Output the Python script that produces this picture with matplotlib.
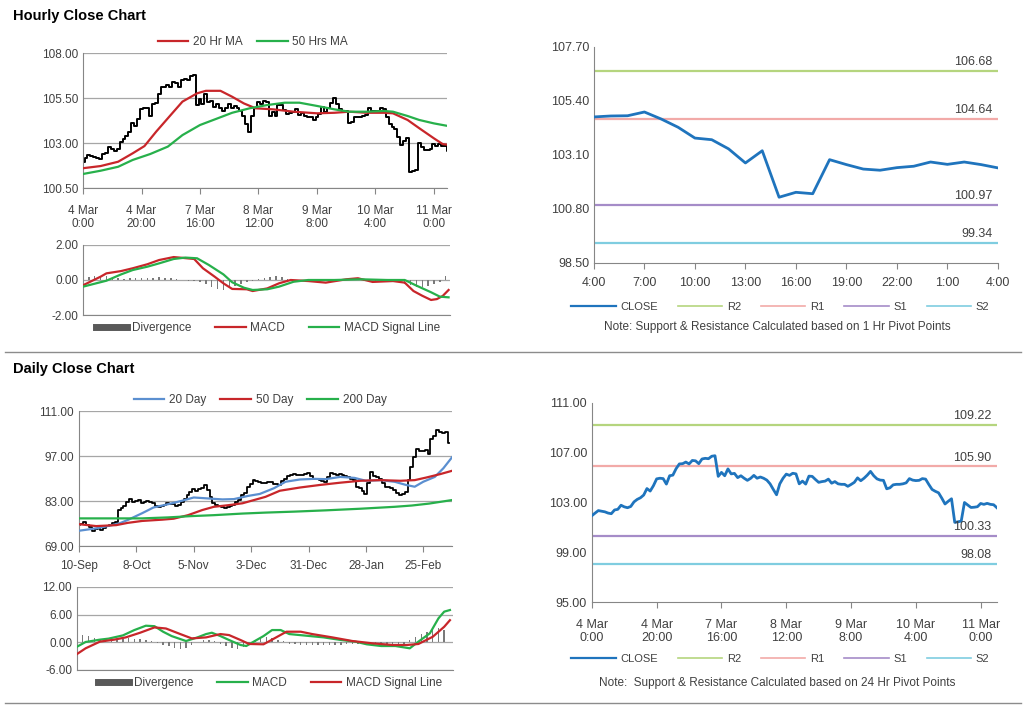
import matplotlib.pyplot as plt
from matplotlib.lines import Line2D

plt.rcParams['font.family'] = ['Liberation Sans', 'DejaVu Sans']

# ---- hourly data (4 Mar 0:00 onwards, one value per trading hour)
hourly_close = [
    101.94, 102.15, 102.35, 102.30, 102.25, 102.15, 102.10, 102.40, 102.45, 102.78,
    102.65, 102.58, 102.68, 103.05, 103.25, 103.38, 103.60, 104.12, 103.92, 104.35,
    104.90, 104.95, 104.92, 104.48, 105.15, 105.20, 105.72, 106.10, 106.12, 106.25,
    106.10, 106.38, 106.35, 106.12, 106.50, 106.55, 106.52, 106.72, 106.76, 105.10,
    105.42, 105.15, 105.70, 105.30, 105.34, 105.00, 105.15, 104.95, 104.78, 104.94,
    105.18, 104.95, 105.05, 104.95, 104.80, 104.50, 104.05, 103.62, 104.50, 104.95,
    105.28, 105.18, 105.35, 105.30, 104.50, 104.72, 104.48, 105.12, 105.10, 104.85,
    104.62, 104.68, 104.72, 104.88, 104.55, 104.68, 104.50, 104.46, 104.46, 104.30,
    104.45, 104.62, 104.98, 104.75, 104.95, 105.20, 105.50, 105.15, 104.90, 104.80,
    104.78, 104.10, 104.18, 104.42, 104.46, 104.46, 104.50, 104.58, 104.92, 104.80,
    104.76, 104.78, 104.92, 104.88, 104.45, 104.05, 103.90, 103.78, 103.35, 102.88,
    103.10, 103.30, 101.40, 101.45, 101.50, 103.00, 102.80, 102.60, 102.62, 102.66,
    102.92, 102.85, 102.93, 102.85, 102.82, 102.58]
hourly_labels = ['4 Mar\n0:00', '4 Mar\n20:00', '7 Mar\n16:00', '8 Mar\n12:00',
                 '9 Mar\n8:00', '10 Mar\n4:00', '11 Mar\n0:00']

ma20_hours = [0, 6, 12, 17, 21, 25, 30, 34, 39, 42, 47, 51, 55, 59, 65, 72, 80, 86,
              91, 97, 103, 106, 111, 115, 120, 123, 125]
ma20_values = [101.60, 101.72, 101.96, 102.43, 102.83, 103.63, 104.56, 105.30, 105.76,
               105.90, 105.90, 105.57, 105.20, 104.93, 104.87, 104.74, 104.65, 104.68,
               104.74, 104.68, 104.68, 104.65, 104.28, 103.82, 103.26, 102.94, 102.90]
ma50_hours = [0, 6, 12, 17, 23, 29, 34, 40, 46, 51, 57, 63, 69, 74, 80, 86, 91, 97,
              103, 106, 111, 115, 120, 125]
ma50_values = [101.28, 101.46, 101.68, 102.06, 102.39, 102.80, 103.44, 104.00, 104.37,
               104.68, 104.93, 105.11, 105.24, 105.24, 105.06, 104.87, 104.74, 104.74,
               104.78, 104.74, 104.50, 104.28, 104.09, 103.94]

h_macd_hours = [0, 6, 8, 13, 17, 22, 26, 31, 33, 38, 41, 45, 48, 51, 56, 58, 63, 67,
                71, 77, 83, 90, 94, 99, 106, 110, 113, 116, 119, 121, 123, 125]
h_macd_values = [-0.30, 0.19, 0.38, 0.51, 0.67, 0.90, 1.14, 1.31, 1.28, 1.20, 0.67,
                 0.19, -0.19, -0.51, -0.53, -0.63, -0.48, -0.19, 0.00, -0.06, -0.15,
                 0.04, 0.10, -0.11, -0.06, -0.15, -0.63, -0.90, -1.14, -1.09, -0.91, -0.57]
h_signal_hours = [0, 8, 13, 17, 22, 26, 31, 35, 39, 43, 48, 51, 55, 58, 63, 67, 72, 77,
                  86, 95, 104, 110, 114, 119, 122, 125]
h_signal_values = [-0.38, -0.04, 0.32, 0.57, 0.76, 0.95, 1.20, 1.28, 1.24, 0.86, 0.32,
                   -0.13, -0.44, -0.57, -0.53, -0.38, -0.10, 0.00, 0.00, 0.04, 0.00,
                   0.00, -0.32, -0.70, -0.95, -0.99]
h_div_hours = list(range(0, 126, 2))
h_div_values = [0.10, 0.15, 0.20, 0.22, 0.20, 0.12, 0.10, 0.08, 0.10, 0.10,
                0.12, 0.12, 0.14, 0.15, 0.14, 0.12, 0.08, 0.02, -0.03, -0.06,
                -0.12, -0.25, -0.38, -0.50, -0.55, -0.48, -0.35, -0.20, -0.10, -0.05,
                0.05, 0.12, 0.18, 0.20, 0.15, 0.06, 0.02, -0.03, -0.05, -0.06,
                -0.04, -0.03, 0.02, 0.04, 0.05, 0.06, 0.05, 0.02, -0.03, -0.05,
                -0.06, -0.05, -0.03, -0.05, -0.10, -0.20, -0.30, -0.38, -0.40, -0.35,
                -0.25, -0.10, 0.20]

# ---- last 24 hours close with 1 Hr pivots
day_hour_labels = ['4:00', '7:00', '10:00', '13:00', '16:00', '19:00', '22:00', '1:00', '4:00']
day_hour_close = [104.72, 104.76, 104.77, 104.93, 104.63, 104.28, 103.82, 103.75, 103.36,
                  102.76, 103.28, 101.30, 101.51, 101.45, 102.90, 102.69, 102.50, 102.45,
                  102.56, 102.62, 102.80, 102.70, 102.80, 102.69, 102.55]
pivots_1h = {'R2': 106.68, 'R1': 104.64, 'S1': 100.97, 'S2': 99.34}
pivots_24h = {'R2': 109.22, 'R1': 105.90, 'S1': 100.33, 'S2': 98.08}

# ---- daily data (10-Sep onwards, trading days)
daily_close = [
    75.5, 76.0, 76.5, 75.6, 74.8, 73.8, 74.2, 74.5, 74.0, 74.6,
    75.2, 75.6, 76.2, 76.5, 80.2, 80.8, 81.5, 82.6, 83.5, 82.8,
    83.0, 83.3, 82.5, 82.8, 83.1, 82.6, 82.3, 81.6, 81.0, 81.4,
    81.8, 82.4, 82.2, 82.0, 81.5, 81.7, 82.6, 83.5, 85.0, 85.8,
    86.6, 86.2, 86.6, 87.2, 88.0, 86.4, 84.3, 82.3, 81.8, 81.4,
    81.0, 80.8, 81.2, 81.5, 81.7, 82.6, 83.3, 84.8, 85.6, 87.4,
    88.4, 89.5, 89.2, 89.0, 88.6, 88.5, 88.8, 89.0, 88.4, 88.2,
    88.0, 89.3, 90.0, 90.8, 91.0, 91.4, 91.0, 91.2, 91.1, 91.5,
    91.8, 90.8, 90.0, 89.7, 89.5, 89.2, 89.0, 90.5, 91.8, 91.4,
    91.1, 91.3, 91.1, 90.8, 90.4, 89.9, 89.5, 87.5, 87.0, 86.0,
    85.2, 88.5, 92.1, 90.8, 90.4, 90.0, 88.5, 87.5, 87.3, 87.2,
    86.4, 85.5, 84.8, 85.2, 85.8, 89.5, 93.7, 96.8, 99.1, 98.7,
    98.5, 98.9, 97.6, 102.2, 103.2, 105.1, 104.5, 104.1, 104.6, 101.1]
daily_labels = ['10-Sep', '8-Oct', '5-Nov', '3-Dec', '31-Dec', '28-Jan', '25-Feb']

ma20d_days = [0, 6, 10, 14, 17, 22, 26, 31, 36, 40, 45, 50, 54, 59, 63, 68, 72, 77, 82,
              86, 91, 96, 100, 105, 110, 114, 117, 120, 124, 127, 130]
ma20d_values = [73.75, 74.5, 75.2, 76.0, 77.1, 79.2, 81.0, 82.0, 83.1, 84.1, 83.8, 83.5,
                83.6, 84.6, 85.2, 87.0, 89.0, 89.7, 89.9, 89.8, 90.5, 90.2, 89.3, 89.5,
                89.0, 88.0, 87.45, 89.0, 90.5, 93.2, 96.6]
ma50d_days = [0, 6, 13, 17, 22, 29, 33, 38, 43, 47, 52, 57, 61, 65, 70, 77, 84, 91, 98,
              105, 112, 117, 121, 126, 130]
ma50d_values = [75.8, 75.2, 75.5, 76.2, 76.8, 77.2, 77.5, 78.6, 80.2, 81.2, 81.7, 82.3,
                83.3, 84.3, 86.2, 87.2, 88.0, 88.7, 89.3, 89.5, 89.3, 89.5, 90.3, 91.4, 92.4]
ma200d_days = [0, 22, 31, 39, 47, 57, 65, 75, 86, 98, 110, 116, 122, 130]
ma200d_values = [77.6, 77.6, 77.9, 78.3, 78.6, 79.1, 79.4, 79.7, 80.1, 80.6, 81.2, 81.6,
                 82.2, 83.3]

d_macd_days = [0, 3, 8, 11, 16, 20, 24, 27, 30, 33, 38, 42, 45, 47, 50, 53, 57, 59, 61,
               65, 68, 71, 74, 80, 86, 92, 97, 101, 106, 111, 116, 119, 123, 126, 128, 130]
d_macd_values = [-0.95, 0.07, 0.58, 0.8, 1.5, 2.66, 3.6, 3.5, 2.3, 1.35, 0.28, 1.07, 1.79,
                 2.08, 1.35, 0.5, -0.58, -0.8, -0.07, 1.35, 2.66, 2.66, 1.79, 1.43, 1.07,
                 0.5, 0.15, -0.43, -0.8, -0.8, -1.3, 0.15, 1.95, 5.2, 6.65, 7.0]
d_signal_days = [0, 3, 8, 13, 17, 22, 27, 31, 36, 40, 45, 50, 53, 57, 60, 65, 68, 73, 78,
                 82, 89, 96, 103, 110, 115, 119, 124, 128, 130]
d_signal_values = [-2.54, -1.3, 0.15, 0.58, 1.07, 2.08, 3.23, 3.0, 1.79, 0.85, 1.07, 1.79,
                   1.57, 0.5, -0.36, -0.43, 0.58, 2.3, 2.3, 1.79, 1.07, 0.28, -0.22, -0.58,
                   -0.58, -0.36, 1.2, 3.37, 4.8]
d_div_days = list(range(0, 130, 2))
d_div_values = [1.4, 1.5, 1.3, 1.0, 0.6, 0.3, 0.4, 0.6, 0.7, 0.9,
                0.8, 0.7, 0.5, 0.3, -0.2, -0.6, -0.9, -1.2, -1.4, -1.2,
                -0.6, 0.1, 0.5, 0.6, 0.3, -0.3, -0.8, -1.2, -1.4, -1.0,
                -0.3, 0.5, 0.9, 1.1, 1.0, 0.6, 0.2, -0.3, -0.4, -0.5,
                -0.5, -0.6, -0.5, -0.5, -0.6, -0.6, -0.5, -0.4, -0.3, -0.3,
                -0.4, -0.4, -0.4, -0.4, -0.4, -0.3, -0.4, -0.5, 0.4, 1.2,
                1.8, 2.3, 2.8, 3.0, 2.7]

RED = '#c8262a'
GREEN = '#27b04b'
BLUE_MA = '#5b8fd0'
CLOSE_BLUE = '#1f74bd'
TEXT = '#404040'
LEVEL_COLORS = {'R2': '#b5d57e', 'R1': '#f2aaa8', 'S1': '#a58cc8', 'S2': '#7fcde0'}


def style_axes(ax, grid=True):
    for side in ['top', 'right']:
        ax.spines[side].set_visible(False)
    for side in ['left', 'bottom']:
        ax.spines[side].set_color('#868686')
    ax.tick_params(colors='#868686', labelcolor=TEXT, labelsize=8.5, length=4)
    if grid:
        ax.yaxis.grid(True, color='#a6a6a6', linewidth=0.9)
    ax.set_axisbelow(True)


def fmt_ticks(ax, ticks):
    ax.set_yticks(ticks)
    ax.set_yticklabels(['%.2f' % t for t in ticks])


def level_chart(ax, x, close, levels, ylim, yticks, xticks, xlabels):
    style_axes(ax, grid=False)
    ax.plot(x, close, color=CLOSE_BLUE, linewidth=2, zorder=3)
    for name, v in levels.items():
        ax.axhline(v, color=LEVEL_COLORS[name], linewidth=1.6)
        ax.annotate('%.2f' % v, xy=(1, v), xycoords=('axes fraction', 'data'),
                    xytext=(-4, 2), textcoords='offset points', ha='right', va='bottom',
                    fontsize=9, color=TEXT)
    ax.set_ylim(*ylim)
    fmt_ticks(ax, yticks)
    ax.set_xticks(xticks)
    ax.set_xticklabels(xlabels)
    ax.tick_params(axis='y', length=0, labelsize=9)
    ax.tick_params(axis='x', labelsize=9)


def add_legend(handles, labels, x, y, spacing, handlelength=2.6, size=8.5):
    fig.legend(handles, labels, loc='center', bbox_to_anchor=(x, 1 - y / 706),
               ncol=len(labels), frameon=False, fontsize=size, handlelength=handlelength,
               columnspacing=spacing, handletextpad=0.4, labelcolor=TEXT)


fig = plt.figure(figsize=(10.24, 7.06), dpi=100)

fig.text(0.013, 0.977, 'Hourly Close Chart', fontsize=10.5, fontweight='bold', va='center')
fig.text(0.013, 0.477, 'Daily Close Chart', fontsize=10.5, fontweight='bold', va='center')
fig.add_artist(Line2D([0.005, 0.997], [1 - 352 / 706, 1 - 352 / 706], color='#8c8c8c', lw=1))
fig.add_artist(Line2D([0.005, 0.997], [1 - 703 / 706, 1 - 703 / 706], color='#8c8c8c', lw=1))

# ---- hourly close with moving averages
hours = list(range(len(hourly_close)))
ax1 = fig.add_axes([0.0811, 0.7337, 0.3555, 0.1912])
style_axes(ax1)
ax1.plot(hours, hourly_close, drawstyle='steps-mid', color='black', linewidth=1.4, zorder=2)
ax1.plot(ma20_hours, ma20_values, color=RED, linewidth=1.6, zorder=3)
ax1.plot(ma50_hours, ma50_values, color=GREEN, linewidth=1.6, zorder=3)
ax1.set_xlim(0, 124.5)
ax1.set_ylim(100.5, 108)
fmt_ticks(ax1, [100.5, 103, 105.5, 108])
ax1.set_xticks(range(0, 121, 20))
ax1.set_xticklabels(hourly_labels)
ax1.tick_params(axis='y', length=0)
ax1.tick_params(axis='x', pad=8)
add_legend([Line2D([], [], color=RED, lw=1.6), Line2D([], [], color=GREEN, lw=1.6)],
           ['20 Hr MA', '50 Hrs MA'], 0.247, 42, 1.2)

ax2 = fig.add_axes([0.0811, 0.5538, 0.3584, 0.0992])
style_axes(ax2)
ax2.bar(h_div_hours, h_div_values, width=0.5, color='#7a7a7a', zorder=2)
ax2.plot(h_macd_hours, h_macd_values, color=RED, linewidth=1.6, zorder=3)
ax2.plot(h_signal_hours, h_signal_values, color=GREEN, linewidth=1.6, zorder=3)
ax2.set_xlim(0, 125.5)
ax2.set_ylim(-2, 2)
fmt_ticks(ax2, [-2, 0, 2])
ax2.set_xticks([])
ax2.tick_params(axis='y', length=0)
add_legend([Line2D([], [], color='#595959', lw=5), Line2D([], [], color=RED, lw=1.6),
            Line2D([], [], color=GREEN, lw=1.6)],
           ['Divergence', 'MACD', 'MACD Signal Line'], 0.262, 328, 2.0)

# ---- last 24 hours vs 1 Hr pivots
ax3 = fig.add_axes([0.580, 0.6275, 0.3945, 0.306])
level_chart(ax3, range(len(day_hour_close)), day_hour_close, pivots_1h, (98.5, 107.7),
            [98.5, 100.8, 103.1, 105.4, 107.7], range(0, 25, 3), day_hour_labels)
ax3.set_xlim(0, 24)
ax3.tick_params(axis='x', pad=6)
level_handles = [Line2D([], [], color=CLOSE_BLUE, lw=1.6)] + \
    [Line2D([], [], color=LEVEL_COLORS[k], lw=1.2) for k in ['R2', 'R1', 'S1', 'S2']]
add_legend(level_handles, ['CLOSE', 'R2', 'R1', 'S1', 'S2'], 0.762, 307, 1.8, 4.0, 8)
fig.text(0.759, 1 - 327 / 706, 'Note: Support & Resistance Calculated based on 1 Hr Pivot Points',
         ha='center', va='center', fontsize=8.5, color=TEXT)

# ---- daily close with moving averages
days = list(range(len(daily_close)))
ax4 = fig.add_axes([0.0771, 0.2266, 0.3643, 0.1912])
style_axes(ax4)
ax4.plot(days, daily_close, drawstyle='steps-mid', color='black', linewidth=1.3, zorder=2)
ax4.plot(ma20d_days, ma20d_values, color=BLUE_MA, linewidth=1.6, zorder=3)
ax4.plot(ma50d_days, ma50d_values, color=RED, linewidth=1.6, zorder=3)
ax4.plot(ma200d_days, ma200d_values, color=GREEN, linewidth=1.6, zorder=3)
ax4.set_xlim(0, 130)
ax4.set_ylim(69, 111)
fmt_ticks(ax4, [69, 83, 97, 111])
ax4.set_xticks(range(0, 121, 20))
ax4.set_xticklabels(daily_labels)
ax4.tick_params(axis='y', length=0)
ax4.tick_params(axis='x', pad=6)
add_legend([Line2D([], [], color=BLUE_MA, lw=1.6), Line2D([], [], color=RED, lw=1.6),
            Line2D([], [], color=GREEN, lw=1.6)],
           ['20 Day', '50 Day', '200 Day'], 0.254, 400, 1.2)

ax5 = fig.add_axes([0.0752, 0.051, 0.367, 0.1176])
style_axes(ax5)
ax5.bar(d_div_days, d_div_values, width=0.5, color='#7a7a7a', zorder=2)
ax5.plot(d_macd_days, d_macd_values, color=GREEN, linewidth=1.6, zorder=3)
ax5.plot(d_signal_days, d_signal_values, color=RED, linewidth=1.6, zorder=3)
ax5.set_xlim(0, 131)
ax5.set_ylim(-6, 12)
fmt_ticks(ax5, [-6, 0, 6, 12])
ax5.set_xticks([])
ax5.tick_params(axis='y', length=0)
add_legend([Line2D([], [], color='#595959', lw=5), Line2D([], [], color=GREEN, lw=1.6),
            Line2D([], [], color=RED, lw=1.6)],
           ['Divergence', 'MACD', 'MACD Signal Line'], 0.264, 683, 2.0)

# ---- hourly close vs 24 Hr pivots
ax6 = fig.add_axes([0.578, 0.1473, 0.3955, 0.2819])
level_chart(ax6, hours, hourly_close, pivots_24h, (95, 111), [95, 99, 103, 107, 111],
            range(0, 121, 20), hourly_labels)
ax6.set_xlim(0, 125)
ax6.tick_params(axis='x', pad=8)
add_legend(level_handles, ['CLOSE', 'R2', 'R1', 'S1', 'S2'], 0.762, 659, 1.8, 4.0, 8)
fig.text(0.759, 1 - 683 / 706, 'Note:  Support & Resistance Calculated based on 24 Hr Pivot Points',
         ha='center', va='center', fontsize=8.5, color=TEXT)

plt.savefig('out.png', dpi=100)
